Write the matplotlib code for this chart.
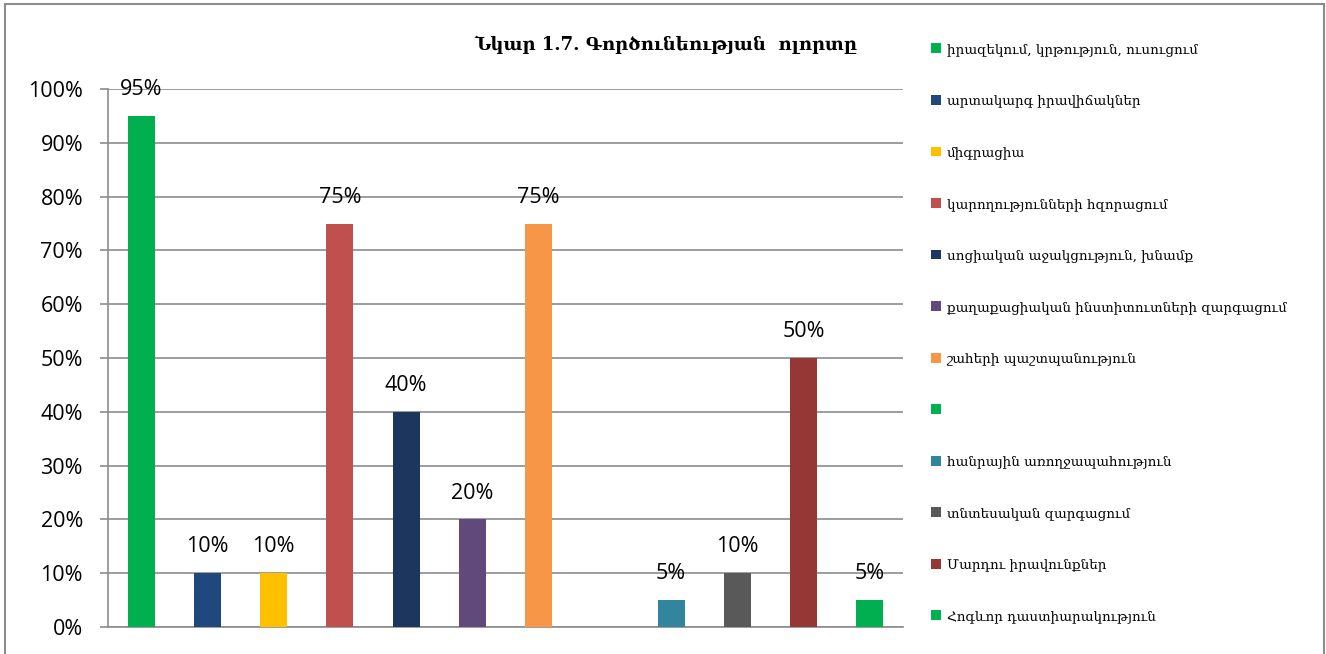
import matplotlib
matplotlib.use("Agg")
import matplotlib.pyplot as plt
from matplotlib.patches import Patch, Rectangle
from matplotlib.ticker import FuncFormatter

categories = [
    "իրազեկում, կրթություն, ուսուցում",
    "արտակարգ իրավիճակներ",
    "միգրացիա",
    "կարողությունների հզորացում",
    "սոցիական աջակցություն, խնամք",
    "քաղաքացիական ինստիտուտների զարգացում",
    "շահերի պաշտպանություն",
    "",
    "հանրային առողջապահություն",
    "տնտեսական զարգացում",
    "Մարդու իրավունքներ",
    "Հոգևոր դաստիարակություն",
]
values = [0.95, 0.10, 0.10, 0.75, 0.40, 0.20, 0.75, None, 0.05, 0.10, 0.50, 0.05]
colors = ["#00B050", "#1F497D", "#FFC000", "#C0504D", "#1C365E", "#604A7B",
          "#F79646", "#00B050", "#31859C", "#595959", "#953735", "#00B050"]
yticks = [0, 0.1, 0.2, 0.3, 0.4, 0.5, 0.6, 0.7, 0.8, 0.9, 1.0]
title = "Նկար 1.7. Գործունեության  ոլորտը"

W, H = 1326, 654
fig = plt.figure(figsize=(W / 100, H / 100), dpi=100)
ax = fig.add_axes([108 / W, 27 / H, (903 - 108) / W, (627 - 89) / H])

for i, (v, c) in enumerate(zip(values, colors)):
    if v is None:
        continue
    ax.bar(i, v, width=0.41, color=c, zorder=3)
    ax.annotate(f"{round(v * 100)}%", (i, v), xytext=(0, 19), textcoords="offset points",
                ha="center", va="center", fontsize=15.5, family="Open Sans", color="#000000")

ax.set_xlim(-0.5, len(categories) - 0.5)
ax.set_ylim(0, 1.0)
ax.set_yticks(yticks)
ax.yaxis.set_major_formatter(FuncFormatter(lambda v, p: f"{round(v * 100)}%"))
ax.set_xticks([])
ax.grid(axis="y", color="#8C8C8C", linewidth=1.2, zorder=0)
ax.tick_params(axis="y", length=6, color="#8C8C8C", width=1.2, labelsize=15.5, pad=12)
for lab in ax.get_yticklabels():
    lab.set_family("Open Sans")
for s in ["top", "right"]:
    ax.spines[s].set_visible(False)
for s in ["left", "bottom"]:
    ax.spines[s].set_color("#8C8C8C")
    ax.spines[s].set_linewidth(1.2)

fig.text(666 / W, 1 - 45 / H, title, ha="center", va="center", fontsize=13,
         fontweight="bold", family="DejaVu Serif")

handles = [Patch(facecolor=c, edgecolor="none") for c in colors]
leg = fig.legend(handles, categories, loc="upper left",
                 bbox_to_anchor=(919 / W, 1 - 31 / H), frameon=False,
                 handlelength=0.75, handleheight=0.75, handletextpad=0.4,
                 labelspacing=2.86, prop={"family": "DejaVu Serif", "size": 9.7})

fig.patches.append(Rectangle((5 / W, -0.1), (1324 - 5) / W, 1.1 - 4 / H,
                             transform=fig.transFigure, fill=False,
                             edgecolor="#8C8C8C", linewidth=1.5))

fig.savefig("out.png", dpi=100)
